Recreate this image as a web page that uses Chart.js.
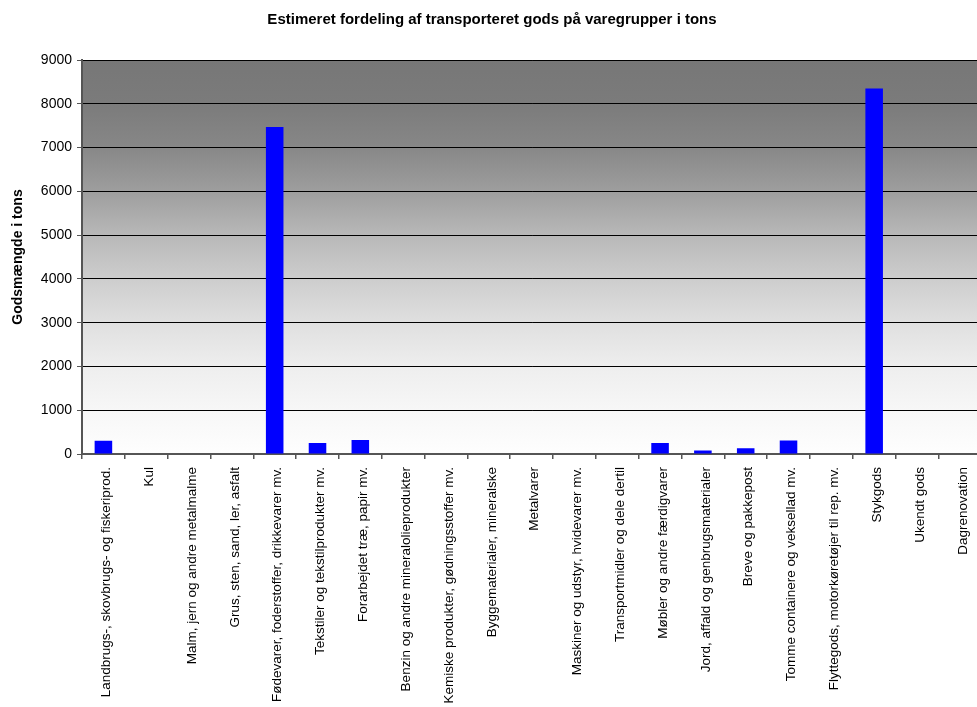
<!DOCTYPE html>
<html>
<head>
<meta charset="utf-8">
<script src="https://cdn.jsdelivr.net/npm/chart.js@4"></script>
<style>
  html, body { margin: 0; padding: 0; background: #fff; overflow: hidden; }
  #wrap { width: 984px; height: 707px; position: relative; }
</style>
</head>
<body>
<div id="wrap"><canvas id="chart"></canvas></div>
<script>
// data
const categories = [
  "Landbrugs-, skovbrugs- og fiskeriprod.",
  "Kul",
  "Malm, jern og andre metalmalme",
  "Grus, sten, sand, ler, asfalt",
  "Fødevarer, foderstoffer, drikkevarer mv.",
  "Tekstiler og tekstilprodukter mv.",
  "Forarbejdet træ, papir mv.",
  "Benzin og andre mineralolieprodukter",
  "Kemiske produkter, gødningsstoffer mv.",
  "Byggematerialer, mineralske",
  "Metalvarer",
  "Maskiner og udstyr, hvidevarer mv.",
  "Transportmidler og dele dertil",
  "Møbler og andre færdigvarer",
  "Jord, affald og genbrugsmaterialer",
  "Breve og pakkepost",
  "Tomme containere og veksellad mv.",
  "Flyttegods, motorkøretøjer til rep. mv.",
  "Stykgods",
  "Ukendt gods",
  "Dagrenovation"
];
const tons = [300, 0, 0, 0, 7470, 250, 320, 0, 0, 0, 0, 0, 0, 250, 80, 130, 310, 0, 8350, 0, 0];
const yTicks = [0, 1000, 2000, 3000, 4000, 5000, 6000, 7000, 8000, 9000];

const FONT = "'Liberation Sans', Arial, sans-serif";

// gray gradient behind the bars
const plotBackground = {
  id: "plotBackground",
  beforeDraw(chart) {
    const { ctx, chartArea: a } = chart;
    const g = ctx.createLinearGradient(0, a.top, 0, a.bottom);
    g.addColorStop(0, "#777777");
    g.addColorStop(0.11, "#7b7b7b");
    g.addColorStop(0.22, "#878787");
    g.addColorStop(0.33, "#9d9d9d");
    g.addColorStop(0.44, "#b7b7b7");
    g.addColorStop(0.56, "#cecece");
    g.addColorStop(0.67, "#e0e0e0");
    g.addColorStop(0.78, "#eeeeee");
    g.addColorStop(0.89, "#f7f7f7");
    g.addColorStop(1, "#fefefe");
    ctx.save();
    ctx.fillStyle = g;
    ctx.fillRect(a.left, a.top, a.right - a.left, a.bottom - a.top);
    ctx.restore();
  }
};

const ctx = document.getElementById("chart").getContext("2d");
new Chart(ctx, {
  type: "bar",
  data: {
    labels: categories,
    datasets: [
      {
        data: tons,
        backgroundColor: "#0000ff",
        borderWidth: 0,
        barPercentage: 0.41,
        categoryPercentage: 1,
      },
    ],
  },
  options: {
    responsive: true,
    maintainAspectRatio: false,
    animation: false,
    layout: { padding: { left: 0, right: 0, top: 0, bottom: 0 } },
    plugins: {
      legend: { display: false },
      tooltip: { enabled: false },
      title: {
        display: true,
        text: "Estimeret fordeling af transporteret gods på varegrupper i tons",
        color: "#000",
        font: { family: FONT, size: 15, weight: "bold" },
        padding: { top: 11, bottom: 31 },
      },
    },
    scales: {
      x: {
        grid: {
          drawOnChartArea: false,
          drawTicks: true,
          tickLength: 5,
          color: "#555",
          lineWidth: 1.5,
        },
        border: { color: "#555", width: 2 },
        ticks: {
          color: "#000",
          autoSkip: false,
          minRotation: 90,
          maxRotation: 90,
          padding: 8,
          labelOffset: 3,
          font: { family: FONT, size: 13.5 },
        },
        afterFit(scale) {
          scale.height = 253;
        },
      },
      y: {
        min: 0,
        max: 9000,
        afterBuildTicks(scale) {
          scale.ticks = yTicks.map((v) => ({ value: v }));
        },
        grid: {
          color: "#000",
          lineWidth: 1,
          tickLength: 5,
          tickColor: "#555",
        },
        border: { color: "#555", width: 2 },
        ticks: {
          color: "#000",
          padding: 5,
          font: { family: FONT, size: 14 },
          callback: (v) => String(v),
        },
        title: {
          display: true,
          text: "Godsmængde i tons",
          color: "#000",
          font: { family: FONT, size: 14, weight: "bold" },
          padding: { top: 10, bottom: 0 },
        },
        afterFit(scale) {
          scale.width = 82;
        },
      },
    },
  },
  plugins: [plotBackground],
});
</script>
</body>
</html>
